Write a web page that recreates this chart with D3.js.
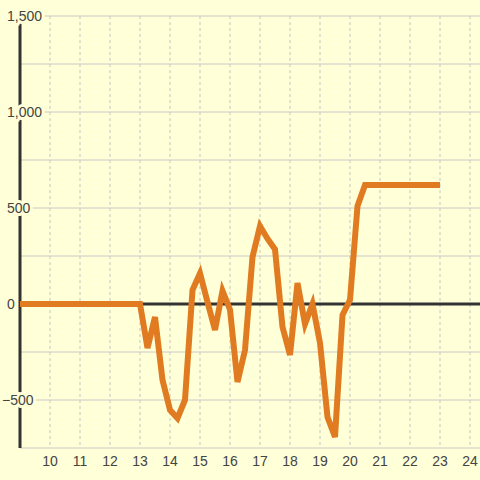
<!DOCTYPE html>
<html>
<head>
<meta charset="utf-8">
<script src="https://cdn.jsdelivr.net/npm/d3@7"></script>
<style>
  html, body { margin: 0; padding: 0; background: #ffffd8; }
  svg { display: block; }
  text { font-family: "Liberation Sans", Arial, sans-serif; }
</style>
</head>
<body>
<div id="chart"></div>
<script>
// data
const hours = [9, 13, 13.25, 13.5, 13.75, 14, 14.25, 14.5, 14.75, 15, 15.25, 15.5, 15.75,
  16, 16.25, 16.5, 16.75, 17, 17.25, 17.5, 17.75, 18, 18.25, 18.5, 18.75,
  19, 19.25, 19.5, 19.75, 20, 20.25, 20.5, 23];
const values = [0, 0, -229, -68, -396, -552, -595, -500, 73, 160, 10, -135, 68,
  -30, -406, -240, 245, 406, 340, 285, -120, -265, 109, -104, 0,
  -203, -589, -693, -57, 21, 510, 620, 620];

const xTicks = [10, 11, 12, 13, 14, 15, 16, 17, 18, 19, 20, 21, 22, 23, 24];
const yGrid = [-750, -500, -250, 0, 250, 500, 750, 1000, 1250, 1500];
const yLabels = [-500, 0, 500, 1000, 1500];

const W = 480, H = 480;
const bg = '#ffffd8';

const svg = d3.select('#chart')
  .append('svg')
  .attr('width', W)
  .attr('height', H);

svg.append('rect').attr('width', W).attr('height', H).attr('fill', bg);

const x = d3.scaleLinear().domain([9, 24]).range([20, 470]);
const y = d3.scaleLinear().domain([-750, 1500]).range([448, 16]);

// vertical dotted grid
svg.append('g')
  .selectAll('line')
  .data(xTicks)
  .enter()
  .append('line')
  .attr('x1', d => x(d)).attr('x2', d => x(d))
  .attr('y1', y(1500)).attr('y2', y(-750))
  .attr('stroke', '#c4c4c4')
  .attr('stroke-width', 1)
  .attr('stroke-dasharray', '3,3');

// horizontal grid
svg.append('g')
  .selectAll('line')
  .data(yGrid)
  .enter()
  .append('line')
  .attr('x1', x(9)).attr('x2', W)
  .attr('y1', d => y(d)).attr('y2', d => y(d))
  .attr('stroke', '#c8c8c8')
  .attr('stroke-width', 1);

// y axis and zero line
svg.append('line')
  .attr('x1', x(9)).attr('x2', x(9))
  .attr('y1', y(1500)).attr('y2', y(-750))
  .attr('stroke', '#333')
  .attr('stroke-width', 3);

svg.append('line')
  .attr('x1', x(9)).attr('x2', W)
  .attr('y1', y(0)).attr('y2', y(0))
  .attr('stroke', '#333')
  .attr('stroke-width', 3);

// the series
const line = d3.line()
  .x((d, i) => x(hours[i]))
  .y(d => y(d));

svg.append('path')
  .datum(values)
  .attr('d', line)
  .attr('fill', 'none')
  .attr('stroke', '#e07b22')
  .attr('stroke-width', 6)
  .attr('stroke-linejoin', 'miter');

// y labels with background halo
const fmt = d3.format(',');
svg.append('g')
  .selectAll('text')
  .data(yLabels)
  .enter()
  .append('text')
  .attr('x', d => d < 0 ? 2 : 7)
  .attr('y', d => y(d) + 5)
  .attr('font-size', 14)
  .attr('fill', '#444')
  .attr('stroke', bg)
  .attr('stroke-width', 6)
  .attr('paint-order', 'stroke')
  .text(d => fmt(d));

// x labels
svg.append('g')
  .selectAll('text')
  .data(xTicks)
  .enter()
  .append('text')
  .attr('x', d => x(d))
  .attr('y', 466)
  .attr('text-anchor', 'middle')
  .attr('font-size', 14)
  .attr('fill', '#444')
  .text(d => d);
</script>
</body>
</html>
